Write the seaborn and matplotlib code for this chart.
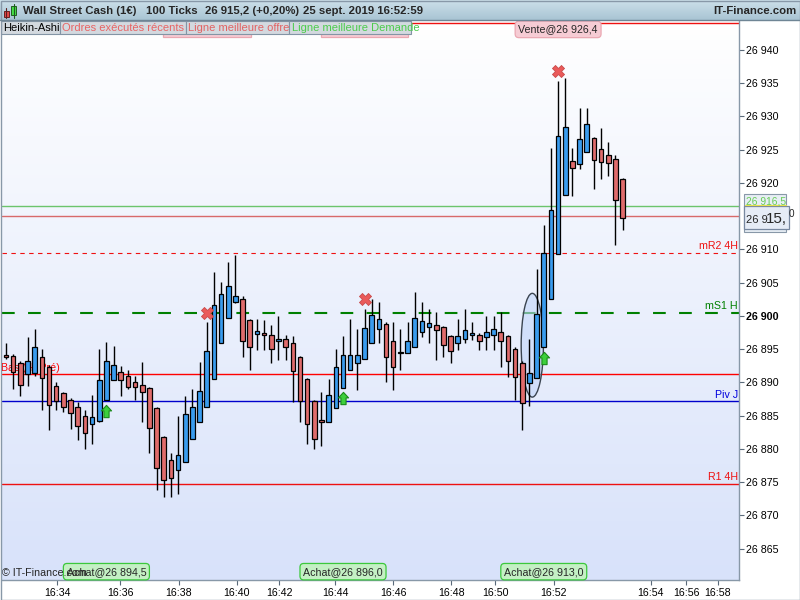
import numpy as np
import pandas as pd
import matplotlib
matplotlib.use("Agg")
import matplotlib.pyplot as plt
import seaborn as sns
from matplotlib.patches import Rectangle, Ellipse, FancyBboxPatch
from matplotlib.path import Path
from matplotlib.colors import LinearSegmentedColormap

# --------------------
# Data (Heikin-Ashi, 100 ticks per candle)
# --------------------
opens = [26894.2, 26894.0, 26892.9, 26891.3, 26891.4, 26893.9, 26892.3, 26889.5, 26888.4, 26887.3,
         26886.3, 26884.9, 26883.7, 26884.2, 26887.3, 26890.3, 26891.5, 26890.9, 26890.0, 26889.6,
         26889.1, 26886.1, 26881.8, 26878.4, 26876.9, 26878.0, 26881.5, 26884.0, 26886.3, 26890.5,
         26896.0, 26899.7, 26902.1, 26902.5, 26899.4, 26897.3, 26897.5, 26897.2, 26896.2, 26896.5,
         26895.9, 26893.8, 26890.5, 26887.2, 26884.3, 26884.1, 26886.1, 26889.2, 26891.8, 26892.9,
         26893.6, 26895.9, 26898.0, 26898.8, 26896.3, 26894.6, 26894.4, 26895.4, 26897.6, 26898.3,
         26898.6, 26898.3, 26897.0, 26895.9, 26896.5, 26897.1, 26897.2, 26896.8, 26897.1, 26897.6,
         26897.0, 26895.1, 26893.0, 26889.9, 26890.6, 26895.4, 26902.5, 26909.3, 26918.2, 26923.3,
         26922.8, 26924.6, 26926.7, 26925.1, 26924.2, 26923.6, 26920.6]
highs = [26896.0, 26894.3, 26893.3, 26896.9, 26898.0, 26895.0, 26892.6, 26890.1, 26888.6, 26887.6,
         26887.1, 26885.9, 26888.1, 26895.0, 26896.1, 26895.5, 26892.5, 26891.9, 26891.0, 26893.1,
         26889.3, 26886.3, 26882.0, 26879.4, 26885.0, 26888.0, 26889.0, 26893.1, 26899.1, 26906.6,
         26905.1, 26908.1, 26909.2, 26903.0, 26899.6, 26899.5, 26899.4, 26898.6, 26900.0, 26897.1,
         26897.0, 26894.0, 26890.7, 26887.4, 26888.6, 26890.5, 26895.0, 26897.0, 26899.5, 26898.0,
         26901.0, 26902.6, 26902.1, 26899.1, 26899.1, 26898.0, 26899.1, 26903.6, 26902.1, 26901.0,
         26900.6, 26898.5, 26897.2, 26899.5, 26901.0, 26899.1, 26897.4, 26900.0, 26900.0, 26900.6,
         26897.2, 26895.3, 26893.2, 26896.5, 26907.1, 26913.7, 26925.3, 26935.3, 26935.8, 26925.3,
         26931.2, 26931.2, 26926.9, 26928.2, 26926.1, 26924.2, 26920.8]
lows = [26893.5, 26889.0, 26887.9, 26889.4, 26891.0, 26885.9, 26882.9, 26885.9, 26885.5, 26883.0,
        26881.4, 26880.0, 26880.8, 26884.0, 26887.3, 26890.3, 26887.9, 26889.0, 26887.4, 26884.0,
        26879.4, 26873.9, 26872.8, 26872.8, 26873.3, 26878.0, 26881.5, 26884.0, 26886.3, 26890.5,
        26896.0, 26899.7, 26902.0, 26893.9, 26891.9, 26894.9, 26894.9, 26893.0, 26893.4, 26893.4,
        26887.0, 26884.0, 26880.8, 26880.0, 26880.4, 26884.1, 26886.1, 26889.2, 26891.8, 26888.9,
        26893.6, 26895.9, 26896.0, 26890.0, 26888.9, 26891.9, 26894.4, 26895.4, 26896.9, 26896.0,
        26893.4, 26893.9, 26893.0, 26894.9, 26896.0, 26896.4, 26894.9, 26894.9, 26894.9, 26892.4,
        26890.8, 26887.4, 26882.9, 26886.4, 26890.6, 26895.4, 26902.5, 26909.3, 26918.2, 26918.1,
        26922.1, 26924.6, 26919.1, 26920.6, 26921.0, 26910.6, 26912.9]
closes = [26893.9, 26891.5, 26889.6, 26893.2, 26895.4, 26890.6, 26886.6, 26887.2, 26886.3, 26885.4,
          26883.4, 26882.4, 26884.8, 26890.3, 26893.3, 26892.7, 26890.3, 26889.3, 26889.3, 26888.5,
          26883.1, 26877.2, 26875.3, 26875.6, 26879.1, 26885.3, 26886.3, 26888.7, 26894.7, 26901.7,
          26903.3, 26904.5, 26903.0, 26896.2, 26895.3, 26897.7, 26897.1, 26895.1, 26896.6, 26895.4,
          26891.7, 26887.2, 26883.8, 26881.5, 26884.0, 26888.1, 26892.4, 26894.2, 26894.1, 26894.2,
          26898.2, 26900.1, 26899.5, 26893.9, 26892.4, 26894.5, 26896.3, 26899.7, 26899.2, 26898.9,
          26897.9, 26895.6, 26894.7, 26897.0, 26897.9, 26897.4, 26896.2, 26897.6, 26898.0, 26896.2,
          26893.2, 26890.8, 26886.9, 26891.4, 26900.3, 26909.4, 26916.0, 26927.1, 26928.4, 26922.2,
          26926.6, 26928.8, 26923.4, 26923.1, 26923.0, 26917.5, 26914.8]

time_labels = ["16:34", "16:36", "16:38", "16:40", "16:42", "16:44", "16:46",
               "16:48", "16:50", "16:52", "16:54", "16:56", "16:58"]
time_ticks = [7.11, 15.96, 24.07, 32.18, 38.08, 45.89, 53.97,
              62.13, 68.2, 76.37, 89.89, 94.84, 99.3]
# 26 915 sits under the last-price box, so it is left out
price_ticks = [26865, 26870, 26875, 26880, 26885, 26890, 26895, 26900,
               26905, 26910, 26920, 26925, 26930, 26935, 26940]

level_names = ["mR2 4H", "mS1 H", "Bas (H, Pré)", "Piv J", "R1 4H"]
level_values = [26909.5, 26900.5, 26891.2, 26887.2, 26874.8]
top_line = 26944.0
best_offer = 26916.5
best_bid = 26915.0

buy_idx = [14, 47, 75]
buy_y = [26885.7, 26887.6, 26893.7]
buy_labels = ["Achat@26 894,5", "Achat@26 896,0", "Achat@26 913,0"]
sell_idx = [28, 50, 77]
sell_y = [26900.5, 26902.5, 26936.8]
sell_label = "Vente@26 926,4"   # only the last one is visible, the others hide under the tabs

# --------------------
# Style
# --------------------
sns.set_theme(style="white")
plt.rcParams["font.family"] = ["Liberation Sans", "DejaVu Sans"]

BLUE = "#3a9cee"
RED = "#e06c6c"
FS = 7.7

df = pd.DataFrame({"open": opens, "high": highs, "low": lows, "close": closes})
df["idx"] = np.arange(len(df))
up = df["close"] >= df["open"]

fig = plt.figure(figsize=(8, 6), dpi=100)
fig.patch.set_facecolor("white")
ax = fig.add_axes([2 / 800, 20 / 600, 737.3 / 800, 560 / 600])

XMIN, XMAX = -0.558, 102.27
YMIN, YMAX = 26860.3, 26944.5

bg = LinearSegmentedColormap.from_list("bg", ["#ffffff", "#d8e2fa"])
ax.imshow(np.linspace(0, 1, 256)[:, None], cmap=bg, extent=(XMIN, XMAX, YMIN, YMAX),
          aspect="auto", origin="upper", zorder=0)

# horizontal levels
ax.axhline(top_line, color="#ee1111", lw=1, zorder=1.2)
ax.axhline(best_offer, color="#6cc46c", lw=1, zorder=1.2)
ax.axhline(best_bid, color="#d86a6a", lw=1, zorder=1.2)
ax.axhline(level_values[0], color="#ee1111", lw=0.8, dashes=(4, 4), zorder=1.2)
ax.axhline(level_values[1], color="#008000", lw=1.5, dashes=(6.1, 6.4), zorder=1.2)
ax.axhline(level_values[2], color="#ff0000", lw=1, zorder=1.2)
ax.axhline(level_values[3], color="#0000cc", lw=1, zorder=1.2)
ax.axhline(level_values[4], color="#ee1111", lw=1, zorder=1.2)

ax.text(0.9982, level_values[0] + 0.25, level_names[0], transform=ax.get_yaxis_transform(),
        ha="right", va="bottom", color="#ee1111", fontsize=FS, zorder=1.3)
ax.text(0.9982, level_values[1] + 0.25, level_names[1], transform=ax.get_yaxis_transform(),
        ha="right", va="bottom", color="#008000", fontsize=FS, zorder=1.3)
ax.text(-0.002, level_values[2] + 0.15, level_names[2], transform=ax.get_yaxis_transform(),
        ha="left", va="bottom", color="#ff0000", fontsize=FS, zorder=1.3)
ax.text(0.9982, level_values[3] + 0.15, level_names[3], transform=ax.get_yaxis_transform(),
        ha="right", va="bottom", color="#0000dd", fontsize=FS, zorder=1.3)
ax.text(0.9982, level_values[4] + 0.25, level_names[4], transform=ax.get_yaxis_transform(),
        ha="right", va="bottom", color="#ee1111", fontsize=FS, zorder=1.3)

# ellipse drawing around the last buy
ax.add_patch(Ellipse((73.4, 26895.6), width=3.1, height=15.6, fc=(0.76, 0.84, 0.98, 0.6),
                     ec="#3a4450", lw=1, zorder=2))

# candles
ax.vlines(df["idx"], df["low"], df["high"], color="black", lw=1, zorder=3)
ax.bar(df["idx"], (df["close"] - df["open"]).abs(), bottom=df[["open", "close"]].min(axis=1),
       width=0.64, color=np.where(up, BLUE, RED), edgecolor="black", linewidth=0.9, zorder=4)

# trade markers
arrow = Path([(0, 1), (-0.83, 0.1), (-0.42, 0.1), (-0.42, -1), (0.42, -1), (0.42, 0.1),
              (0.83, 0.1), (0, 1)], closed=True)
sns.scatterplot(x=buy_idx, y=buy_y, marker=arrow, s=78, color="#3ccf3c", edgecolor="#1a8a1a",
                linewidth=0.8, zorder=6, ax=ax, legend=False)
sns.scatterplot(x=sell_idx, y=sell_y, marker="X", s=75, color="#ea5a5a", edgecolor="#c84a4a",
                linewidth=0.6, zorder=6, ax=ax, legend=False)

for i, lab in zip(buy_idx, buy_labels):
    ax.annotate(lab, xy=(i, 0), xycoords=("data", "axes fraction"), xytext=(0, 2.4),
                textcoords="offset points", ha="center", va="bottom", fontsize=FS, zorder=7,
                bbox=dict(boxstyle="round,pad=0.3,rounding_size=0.35", fc="#c4f0c4",
                          ec="#3cc83c", lw=0.9))
# sell labels: the first two are covered by the tab bar, only their box shows
for i in sell_idx[:2]:
    ax.add_patch(FancyBboxPatch((i - 6.1, 1 - 17 / 560), 12.2, 16 / 560,
                                boxstyle="square,pad=0", transform=ax.get_xaxis_transform(),
                                fc="#f6ccd4", ec="#eaa8b2", lw=0.9, zorder=7))
ax.annotate(sell_label, xy=(sell_idx[2], 1), xycoords=("data", "axes fraction"),
            xytext=(0, -3.2), textcoords="offset points", ha="center", va="top", fontsize=FS,
            zorder=7, bbox=dict(boxstyle="round,pad=0.3,rounding_size=0.35", fc="#f6ccd4",
                                ec="#eaa8b2", lw=0.9))

ax.set_xlim(XMIN, XMAX)
ax.set_ylim(YMIN, YMAX)

# axes
ax.yaxis.tick_right()
ax.set_yticks(price_ticks)
ax.set_yticklabels([f"{v:,}".replace(",", " ") for v in price_ticks])
for lbl, v in zip(ax.get_yticklabels(), price_ticks):
    if v == 26900:
        lbl.set_fontweight("bold")
ax.set_xticks(time_ticks)
ax.set_xticklabels(time_labels)
ax.tick_params(axis="both", direction="out", length=3.6, width=0.8, color="#5a6a7a",
               labelsize=FS, labelcolor="black")
ax.tick_params(axis="y", pad=1.5, right=True, left=False)
ax.tick_params(axis="x", pad=1.8, bottom=True)
for side in ["top", "left"]:
    ax.spines[side].set_visible(False)
for side in ["bottom", "right"]:
    ax.spines[side].set_color("#8898a8")
    ax.spines[side].set_linewidth(1)
ax.grid(False)

# --------------------
# Overlay: header, tabs, price boxes
# --------------------
ov = fig.add_axes([0, 0, 1, 1], zorder=20)
ov.patch.set_alpha(0)
hdr = LinearSegmentedColormap.from_list("hdr", ["#cde0ea", "#a8c4d3"])
ov.imshow(np.linspace(0, 1, 64)[:, None], cmap=hdr, extent=(0, 800, 20, 0), aspect="auto",
          origin="upper")
ov.plot([0, 800], [20.3, 20.3], color="#6f8595", lw=1)

# small candle icon
ov.plot([6, 6], [8, 18], color="#5a2020", lw=0.8)
ov.add_patch(Rectangle((3.5, 10.5), 5, 6, fc="#e24848", ec="#6a2020", lw=0.7))
ov.plot([13.5, 13.5], [3.5, 17.5], color="#205a20", lw=0.8)
ov.add_patch(Rectangle((11, 6), 5, 9, fc="#44dd44", ec="#206020", lw=0.7))

for txt, x in [("Wall Street Cash (1€)", 23), ("100 Ticks", 145.5),
               ("26 915,2 (+0,20%)", 205), ("25 sept. 2019 16:52:59", 303)]:
    ov.text(x, 11.3, txt, fontsize=8.2, fontweight="bold", va="center", ha="left")
ov.text(796.5, 11.3, "IT-Finance.com", fontsize=8.2, fontweight="bold", va="center", ha="right")

tabs = [("Heikin-Ashi", 0.5, 60, "black"), ("Ordres exécutés récents", 60, 186, "#e86464"),
        ("Ligne meilleure offre", 186, 289, "#e26262"),
        ("Ligne meilleure Demande", 289, 411, "#4ccc4c")]
for txt, x0, x1, col in tabs:
    ov.add_patch(Rectangle((x0, 20.8), x1 - x0, 13.6, fc="#d3d9df", ec="#8395a5", lw=0.8))
    ov.text(x0 + 2.5, 27.9, txt, fontsize=8, color=col, va="center", ha="left")

# price boxes on the right axis
ov.add_patch(Rectangle((744, 194), 42, 38, fc="#e8eef5", ec="#8898a8", lw=0.8))
ov.text(746, 201, "26 916,5", fontsize=7.4, color="#66cc55", va="center", ha="left")
ov.plot([745, 786], [205, 205], color="#e8e050", lw=0.8)
ov.add_patch(Rectangle((743.5, 206), 45, 23, fc="#e6ecf6", ec="#7888a0", lw=0.9))
ov.text(745.5, 223.3, "26 9", fontsize=8, va="baseline", ha="left")
ov.text(765.8, 223.3, "15,", fontsize=10.9, va="baseline", ha="left")
ov.text(788.2, 216.8, "0", fontsize=7.2, va="baseline", ha="left")

ov.text(2.5, 573, "© IT-Finance.com", fontsize=FS, va="center", ha="left")
ov.add_patch(Rectangle((0.5, 0.5), 799, 599, fill=False, ec="#8898a8", lw=1))

ov.set_xlim(0, 800)
ov.set_ylim(600, 0)
ov.axis("off")

fig.savefig("out.png", dpi=100)
